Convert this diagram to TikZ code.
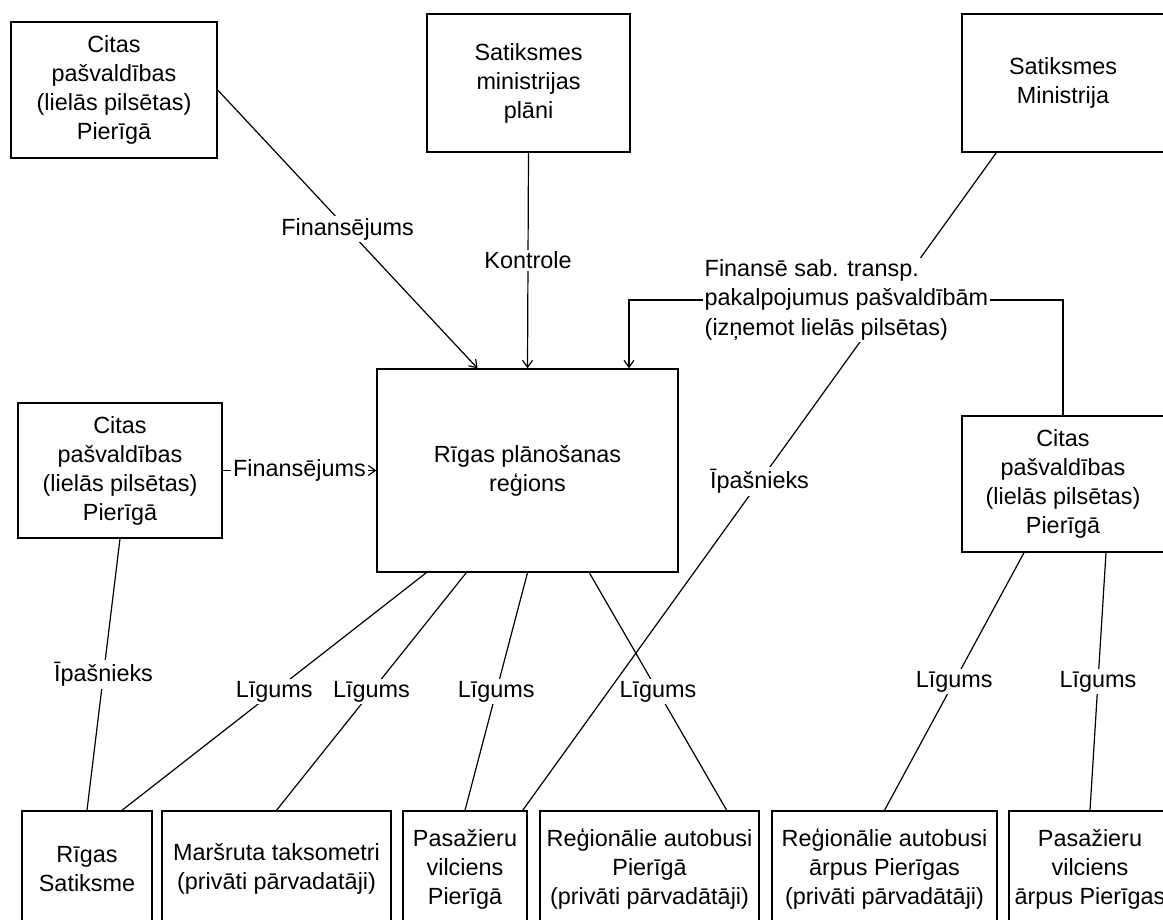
\documentclass[tikz,border=0pt]{standalone}
\usepackage{fontspec}
\setmainfont{Liberation Sans}
\usetikzlibrary{arrows,arrows.meta,calc,positioning}

\tikzset{
  box/.style={draw,rectangle,align=center,line width=0.7pt,inner sep=1pt},
  lbl/.style={fill=white,inner sep=1pt},
  link/.style={line width=0.6pt},
}

\begin{document}
\begin{tikzpicture}[x=0.5pt,y=-0.5pt,font=\fontsize{11.7}{14.5}\selectfont,
                    >={Straight Barb[length=3.5pt,width=5pt]}]
%
  \clip (0,0) rectangle (1163,920);
%
  \node[box,minimum width=103pt,minimum height=68pt] (cpt) at (114,90)
    {Citas\\pašvaldības\\(lielās pilsētas)\\Pierīgā};
  \node[box,minimum width=101.5pt,minimum height=69pt] (smp) at (528.5,83)
    {Satiksmes\\ministrijas\\plāni};
  \node[box,minimum width=101pt,minimum height=69pt] (smin) at (1063,83)
    {Satiksmes\\Ministrija};
  \node[box,minimum width=150.5pt,minimum height=101.5pt] (rpr) at (527.5,470.5)
    {Rīgas plānošanas\\reģions};
  \node[box,minimum width=102pt,minimum height=67.5pt] (cpl) at (120,470.5)
    {Citas\\pašvaldības\\(lielās pilsētas)\\Pierīgā};
  \node[box,minimum width=101pt,minimum height=68pt] (cpr) at (1063,484)
    {Citas\\pašvaldības\\(lielās pilsētas)\\Pierīgā};
%
  \node[box,minimum width=65pt,minimum height=58pt] (rs) at (87,869)
    {Rīgas\\Satiksme};
  \node[box,minimum width=114.5pt,minimum height=58pt] (mt) at (276.5,869)
    {Maršruta taksometri\\(privāti pārvadatāji)};
  \node[box,minimum width=62pt,minimum height=58pt] (pvp) at (465,869)
    {Pasažieru\\vilciens\\Pierīgā};
  \node[box,minimum width=109.5pt,minimum height=58pt] (rap) at (649.5,869)
    {Reģionālie autobusi\\Pierīgā\\(privāti pārvadātāji)};
  \node[box,minimum width=112.5pt,minimum height=58pt] (raa) at (884.5,869)
    {Reģionālie autobusi\\ārpus Pierīgas\\(privāti pārvadātāji)};
  \node[box,minimum width=81pt,minimum height=58pt] (pva) at (1090,869)
    {Pasažieru\\vilciens\\ārpus Pierīgas};
%
  \draw[link] ($(smin.south west)+(35,0)$) -- ($(pvp.north east)+(-5,0)$)
    node[lbl,midway] (own1) {Īpašnieks};
%
  \draw[->,link] (cpt.east) -- ($(rpr.north)+(-50,0)$)
    node[lbl,midway] (fin1) {Finansējums};
  \draw[->,link] (smp.south) -- (rpr.north)
    node[lbl,midway] (ctl) {Kontrole};
  \draw[->,link] (cpl.east) -- (rpr.west)
    node[lbl,midway] (fin2) {Finansējums};
%
  \coordinate (bend) at (629,300);
  \draw[->,link] (cpr.north) |- (bend) -- (bend |- rpr.north);
  \node[lbl,align=left] (fin3) at (846.5,300)
    {Finansē sab. transp.\\pakalpojumus pašvaldībām\\(izņemot lielās pilsētas)};
%
  \draw[link] ($(rpr.south west)+(50,0)$) -- ($(rs.north)+(35,0)$)
    node[lbl,midway] (lg1) {Līgums};
  \draw[link] ($(rpr.south west)+(90,0)$) -- (mt.north)
    node[lbl,midway] (lg2) {Līgums};
  \draw[link] (rpr.south) -- (pvp.north)
    node[lbl,midway] (lg3) {Līgums};
  \draw[link] ($(rpr.south west)+(213,0)$) -- ($(rap.north east)+(-33,0)$)
    node[lbl,midway] (lg4) {Līgums};
  \draw[link] (cpl.south) -- (rs.north)
    node[lbl,midway] (own2) {Īpašnieks};
  \draw[link] ($(cpr.south)+(-39,0)$) -- (raa.north)
    node[lbl,midway] (lg5) {Līgums};
  \draw[link] ($(cpr.south)+(43,0)$) -- (pva.north)
    node[lbl,midway] (lg6) {Līgums};
\end{tikzpicture}
\end{document}
